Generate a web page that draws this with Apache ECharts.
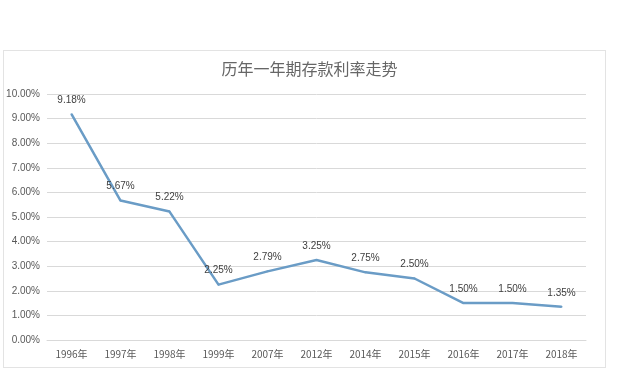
<!DOCTYPE html>
<html><head><meta charset="utf-8">
<script src="https://cdn.jsdelivr.net/npm/echarts@6/dist/echarts.min.js"></script>
<style>html,body{margin:0;padding:0;background:#fff;}#c{width:619px;height:384px;}
#frame{position:absolute;left:3px;top:50px;width:601px;height:316px;border:1px solid #e3e3e3;pointer-events:none;}</style>
</head><body><div id="c"></div><div id="frame"></div>
<script>
const title = '历年一年期存款利率走势';
const categories = ['1996年','1997年','1998年','1999年','2007年','2012年','2014年','2015年','2016年','2017年','2018年'];
const rates = [9.18, 5.67, 5.22, 2.25, 2.79, 3.25, 2.75, 2.50, 1.50, 1.50, 1.35];
const yTicks = {min: 0, max: 10, interval: 1};

const chart = echarts.init(document.getElementById('c'));
chart.setOption({
  animation: false,
  title: {text: title, left: 'center', top: 56, textStyle: {fontFamily: 'Noto Sans CJK SC', fontWeight: 'normal', fontSize: 16, color: '#666666'}},
  grid: {left: 47, right: 33, top: 94, bottom: 44},
  xAxis: {type: 'category', data: categories, boundaryGap: true,
    axisLine: {lineStyle: {color: '#d9d9d9'}}, axisTick: {show: false},
    axisLabel: {color: '#595959', fontSize: 10, margin: 9, fontFamily: 'Noto Sans CJK SC'}},
  yAxis: {type: 'value', min: yTicks.min, max: yTicks.max, interval: yTicks.interval,
    axisLine: {show: false}, axisTick: {show: false},
    splitLine: {lineStyle: {color: '#d9d9d9'}},
    axisLabel: {color: '#595959', fontSize: 10, margin: 7, fontFamily: 'Liberation Sans', formatter: v => v.toFixed(2) + '%'}},
  series: [{type: 'line', data: rates, symbol: 'circle', symbolSize: 2, showSymbol: true,
    itemStyle: {color: '#6a9cc6'},
    lineStyle: {color: '#6a9cc6', width: 2.5},
    labelLayout: {hideOverlap: false},
    label: {show: true, position: 'top', distance: 8, color: '#404040', fontSize: 10, fontFamily: 'Liberation Sans', formatter: p => p.value.toFixed(2) + '%'}}]
});
</script></body></html>
